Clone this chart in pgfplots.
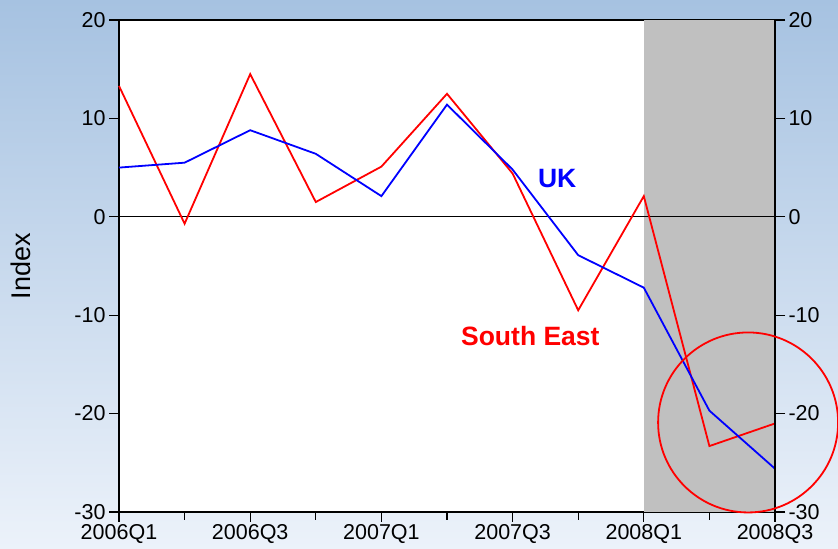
\documentclass[border=0pt]{standalone}
\usepackage{fontspec}
\setmainfont{Liberation Sans}
\usepackage{pgfplots}
\pgfplotsset{compat=1.18}
\definecolor{bgtop}{RGB}{166,194,225}
\definecolor{bgbot}{RGB}{236,242,250}
\definecolor{rec}{RGB}{192,192,192}
\pgfplotstableread{
x uk se
0 5.0 13.3
1 5.5 -0.7
2 8.8 14.5
3 6.4 1.5
4 2.1 5.1
5 11.4 12.5
6 4.8 4.4
7 -3.9 -9.5
8 -7.2 2.1
9 -19.7 -23.3
10 -25.6 -21.0
}\data
\begin{document}
\begin{tikzpicture}
\useasboundingbox (0,0) rectangle (838bp,549bp);
\shade[top color=bgtop, bottom color=bgbot] (0,0) rectangle (838bp,549bp);
\pgfplotsset{
  common/.style={
    at={(119bp,37bp)}, anchor=south west, scale only axis,
    width=656bp, height=492bp,
    xmin=0, xmax=10, ymin=-30, ymax=20,
    ytick={-30,-20,-10,0,10,20},
    yticklabels={-30,-20,-10,0,10,20},
    tick align=outside,
    major tick length=10bp, minor tick length=8bp,
    tick style={line width=1.3bp, black},
    axis line style={line width=1.6bp, black},
    ticklabel style={font=\fontsize{21.5bp}{24bp}\selectfont},
  }
}
\begin{axis}[common,
  axis background/.style={fill=white},
  xtick={0,2,4,6,8,10},
  xticklabels={2006Q1,2006Q3,2007Q1,2007Q3,2008Q1,2008Q3},
  minor xtick={1,3,5,7,9},
  xtick pos=bottom, ytick pos=both, yticklabel pos=left,
  xticklabel style={yshift=1bp},
  clip=false]
\addplot[fill=rec, draw=none] coordinates {(8,-30) (8,20) (10,20) (10,-30)} -- cycle;
\addplot[black, line width=1.3bp] coordinates {(0,0) (10,0)};
\addplot[red, line width=1.8bp] table[x=x, y=se] {\data};
\addplot[blue, line width=1.8bp] table[x=x, y=uk] {\data};
\node[blue, font=\bfseries\fontsize{26.5bp}{30bp}\selectfont] at (axis cs:6.68,3.9) {UK};
\node[red, font=\bfseries\fontsize{26.5bp}{30bp}\selectfont] at (axis cs:6.27,-12.1) {South East};
\coordinate (cc) at (axis cs:9.59,-20.9);
\end{axis}
\begin{axis}[common,
  axis x line=none, axis y line*=right,
  yticklabel pos=right]
\end{axis}
\node[rotate=90, font=\fontsize{27bp}{30bp}\selectfont] at (21bp,283bp) {Index};
\draw[red, line width=1.8bp] (cc) circle [radius=90bp];
\end{tikzpicture}
\end{document}
